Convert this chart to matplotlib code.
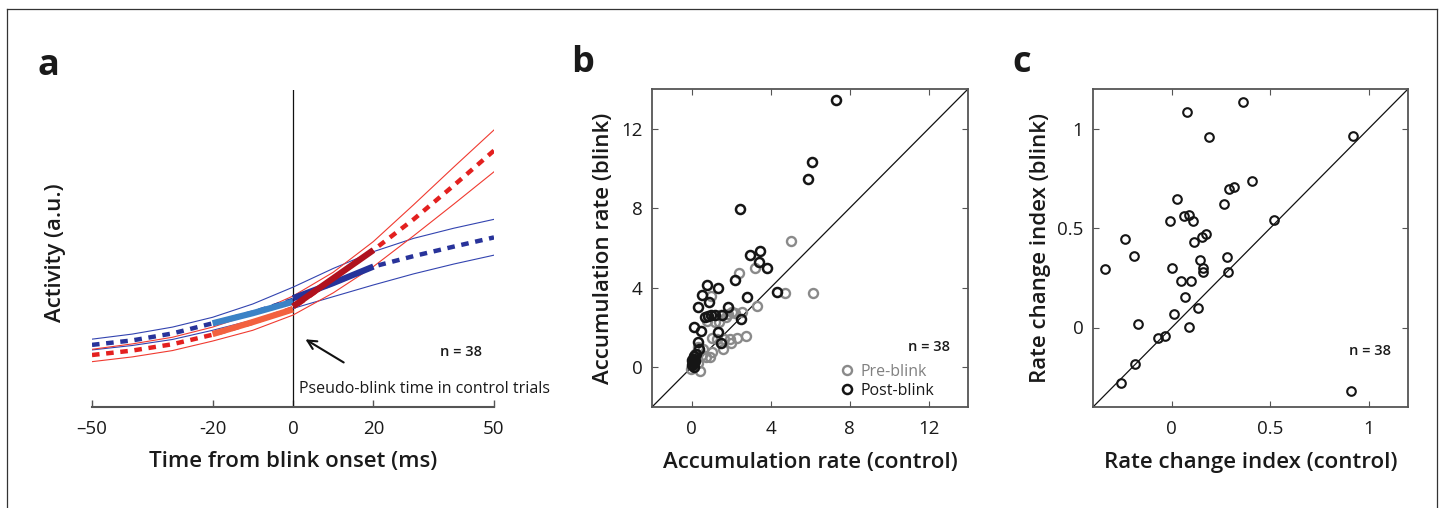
import numpy as np
import matplotlib
matplotlib.use('Agg')
import matplotlib.pyplot as plt
from matplotlib.lines import Line2D

plt.rcParams['font.family'] = ['Open Sans', 'DejaVu Sans']

# ---- panel a : fitted activity around blink onset (a.u.)
t = [-50, -40, -30, -20, -10, 0, 10, 20, 30, 40, 50]
blue_fit = [1.96, 2.10, 2.32, 2.64, 2.98, 3.38, 3.90, 4.43, 4.76, 5.06, 5.35]
blue_upper = [2.14, 2.30, 2.52, 2.83, 3.25, 3.78, 4.37, 4.90, 5.32, 5.64, 5.92]
blue_lower = [1.80, 1.94, 2.13, 2.42, 2.74, 3.11, 3.48, 3.85, 4.20, 4.51, 4.79]
red_fit = [1.64, 1.78, 1.98, 2.28, 2.66, 3.12, 4.04, 4.95, 5.92, 6.99, 8.09]
red_upper = [1.82, 1.99, 2.20, 2.52, 2.94, 3.50, 4.25, 5.22, 6.38, 7.57, 8.74]
red_lower = [1.43, 1.58, 1.78, 2.08, 2.42, 2.90, 3.60, 4.43, 5.40, 6.40, 7.42]
pre_t = [-20, -10, 0]
post_t = [0, 10, 20]
blue_pre = [2.64, 2.96, 3.32]
blue_post = [3.43, 3.91, 4.43]
red_pre = [2.30, 2.68, 3.08]
red_post = [3.17, 4.06, 4.95]
time_ticks = [-50, -20, 0, 20, 50]
time_ticklabels = ['\u201350', '-20', '0', '20', '50']

# ---- panel b : accumulation rates
pre_ctrl = [5.06, 3.20, 2.43, 4.75, 6.15, 3.32, 1.01, 2.21, 2.03, 1.86, 1.45, 1.18,
            1.06, 1.27, 1.66, 1.95, 2.29, 2.77, 1.98, 1.61, 1.06, 0.92, 0.75, 0.44,
            -0.02, 0.07, 0.20, 0.32, 0.55, 0.10, 0.15, 0.03, 0.60, 0.35, 1.40, 0.80,
            2.55, 1.75]
pre_blink = [6.37, 4.99, 4.76, 3.74, 3.74, 3.10, 3.60, 2.75, 2.78, 2.70, 2.62, 2.28,
             1.49, 1.44, 1.44, 1.41, 1.49, 1.57, 1.22, 0.90, 0.77, 0.52, 0.50, -0.18,
             -0.07, 0.35, 0.69, 1.02, 0.60, 0.10, 0.50, 0.25, 0.90, 0.20, 2.30, 2.35,
             2.80, 2.55]
post_ctrl = [7.32, 6.12, 5.91, 2.46, 2.94, 3.47, 3.44, 3.81, 2.21, 4.32, 0.77, 1.33,
             0.55, 0.91, 0.32, 1.86, 2.82, 0.67, 0.84, 1.01, 1.21, 1.56, 2.53, 0.15,
             0.48, 1.33, 1.47, 0.31, 0.38, 0.24, 0.15, 0.07, 0.03, 0.10, 0.15, 0.05,
             0.12, 0.20]
post_blink = [13.45, 10.34, 9.46, 7.97, 5.63, 5.83, 5.28, 5.01, 4.39, 3.80, 4.15, 3.99,
              3.62, 3.27, 3.05, 3.03, 3.55, 2.51, 2.56, 2.61, 2.65, 2.61, 2.43, 2.01,
              1.83, 1.79, 1.22, 1.27, 0.92, 0.69, 0.44, 0.27, 0.10, 0.15, 0.02, 0.35,
              0.55, 0.30]

# ---- panel c : rate change index
rci_ctrl = [-0.337, -0.239, -0.194, -0.172, -0.187, -0.259, -0.069, -0.034, -0.008,
            0.002, 0.010, 0.025, 0.045, 0.061, 0.067, 0.079, 0.089, 0.109, 0.096,
            0.089, 0.114, 0.133, 0.145, 0.152, 0.172, 0.160, 0.160, 0.187, 0.264,
            0.281, 0.286, 0.291, 0.315, 0.360, 0.409, 0.519, 0.923, 0.912]
rci_blink = [0.293, 0.444, 0.360, 0.019, -0.182, -0.279, -0.052, -0.044, 0.535,
             0.301, 0.069, 0.646, 0.234, 0.559, 0.152, 1.086, 0.564, 0.534, 0.234,
             0.005, 0.429, 0.096, 0.338, 0.455, 0.471, 0.301, 0.278, 0.958, 0.620,
             0.357, 0.278, 0.697, 0.707, 1.136, 0.737, 0.539, 0.966, -0.318]

W, H = 1444.0, 508.0
AXC = '#555555'
TXT = '#1a1a1a'


def px_axes(fig, left, top, right, bottom):
    return fig.add_axes([left / W, 1 - bottom / H, (right - left) / W, (bottom - top) / H])


def box_style(ax):
    for s in ax.spines.values():
        s.set_color(AXC)
        s.set_linewidth(1.3)
    ax.tick_params(direction='in', length=4, width=0.8, color=AXC,
                   top=True, right=True, labelsize=13.5, labelcolor=TXT)
    ax.tick_params(axis='x', pad=9)
    ax.tick_params(axis='y', pad=7)


fig = plt.figure(figsize=(W / 100, H / 100), dpi=100)

# outer frame (left, top, right edges; the bottom edge lies outside the picture)
for xs, ys in [((7, 7), (9, 510)), ((7, 1437), (9, 9)), ((1437, 1437), (9, 510))]:
    fig.add_artist(Line2D([x / W for x in xs], [1 - y / H for y in ys],
                          color='#333333', lw=0.9))

label_kw = dict(fontsize=16, fontweight='semibold', color=TXT)

# ================= panel a
ax = px_axes(fig, 92, 90, 494, 407)
ax.set_xlim(-50, 50)
ax.set_ylim(0, 10)
for s in ['left', 'top', 'right']:
    ax.spines[s].set_visible(False)
ax.spines['bottom'].set_color(AXC)
ax.spines['bottom'].set_linewidth(1.5)
ax.set_yticks([])
ax.set_xticks(time_ticks)
ax.set_xticklabels(time_ticklabels)
ax.tick_params(axis='x', direction='in', length=5, width=1.0, color=AXC,
               labelsize=13.5, labelcolor=TXT, pad=9)
ax.axvline(0, color='#111111', lw=0.9)

ax.plot(t, blue_upper, color='#3344b0', lw=0.8)
ax.plot(t, blue_lower, color='#3344b0', lw=0.8)
ax.plot(t, red_upper, color='#f03a30', lw=0.8)
ax.plot(t, red_lower, color='#f03a30', lw=0.8)
ax.plot(t, blue_fit, color='#28339a', lw=3.2, dashes=(1.7, 1.5))
ax.plot(t, red_fit, color='#e3201f', lw=3.2, dashes=(1.7, 1.5))
ax.plot(pre_t, blue_pre, color='#3a82c6', lw=4.5, solid_capstyle='butt')
ax.plot(pre_t, red_pre, color='#f2613f', lw=4.5, solid_capstyle='butt')
ax.plot(post_t, blue_post, color='#26339a', lw=4.5, solid_capstyle='butt')
ax.plot(post_t, red_post, color='#b0121e', lw=4.5, solid_capstyle='butt')

ax.annotate('', xy=(2.5, 2.18), xytext=(13.2, 1.36),
            arrowprops=dict(arrowstyle='->', color='#111111', lw=1.5,
                            mutation_scale=16))
ax.text(1.5, 0.44, 'Pseudo-blink time in control trials', fontsize=11.5,
        color=TXT, va='baseline', ha='left')
ax.text(41.8, 1.74, 'n = 38', fontsize=10.5, fontweight='semibold',
        color=TXT, ha='center', va='center')
ax.set_xlabel('Time from blink onset (ms)', va='center', **label_kw)
ax.xaxis.set_label_coords(0.5, -0.173)
ax.set_ylabel('Activity (a.u.)', va='center', **label_kw)
ax.yaxis.set_label_coords(-0.092, 0.486)
fig.text(48 / W, 1 - 66 / H, 'a', fontsize=26, fontweight='bold',
         ha='center', va='center', color=TXT)

# ================= panel b
ax = px_axes(fig, 652, 89, 968, 407)
ax.set_xlim(-2, 14)
ax.set_ylim(-2, 14)
ax.plot([-2, 14], [-2, 14], color='#111111', lw=0.9)
ax.plot(pre_ctrl, pre_blink, 'o', mfc='none', mec='#8a8a8a', ms=6.5, mew=1.7,
        label='Pre-blink')
ax.plot(post_ctrl, post_blink, 'o', mfc='none', mec='#151515', ms=6.5, mew=1.8,
        label='Post-blink')
box_style(ax)
ax.set_xticks([0, 4, 8, 12])
ax.set_yticks([0, 4, 8, 12])
ax.text(13.1, 1.0, 'n = 38', fontsize=10.5, fontweight='semibold', color=TXT,
        ha='right', va='center')
leg = ax.legend(loc='lower right', bbox_to_anchor=(0.93, -0.01), frameon=False,
                fontsize=11.5, handlelength=0.8, handletextpad=0.5,
                labelspacing=0.2, borderpad=0.2)
leg.get_texts()[0].set_color('#808080')
leg.get_texts()[1].set_color(TXT)
ax.set_xlabel('Accumulation rate (control)', va='center', **label_kw)
ax.xaxis.set_label_coords(0.5, -0.173)
ax.set_ylabel('Accumulation rate (blink)', va='center', **label_kw)
ax.yaxis.set_label_coords(-0.155, 0.5)
fig.text(583 / W, 1 - 63 / H, 'b', fontsize=26, fontweight='bold',
         ha='center', va='center', color=TXT)

# ================= panel c
ax = px_axes(fig, 1093, 89, 1408, 407)
ax.set_xlim(-0.4, 1.2)
ax.set_ylim(-0.4, 1.2)
ax.plot([-0.4, 1.2], [-0.4, 1.2], color='#111111', lw=0.9)
ax.plot(rci_ctrl, rci_blink, 'o', mfc='none', mec='#151515', ms=6.2, mew=1.5)
box_style(ax)
ax.set_xticks([0, 0.5, 1])
ax.set_xticklabels(['0', '0.5', '1'])
ax.set_yticks([0, 0.5, 1])
ax.set_yticklabels(['0', '0.5', '1'])
ax.text(1.116, -0.116, 'n = 38', fontsize=10.5, fontweight='semibold', color=TXT,
        ha='right', va='center')
ax.set_xlabel('Rate change index (control)', va='center', **label_kw)
ax.xaxis.set_label_coords(0.5, -0.173)
ax.set_ylabel('Rate change index (blink)', va='center', **label_kw)
ax.yaxis.set_label_coords(-0.168, 0.5)
fig.text(1022 / W, 1 - 63 / H, 'c', fontsize=26, fontweight='bold',
         ha='center', va='center', color=TXT)

fig.savefig('out.png', dpi=100)
